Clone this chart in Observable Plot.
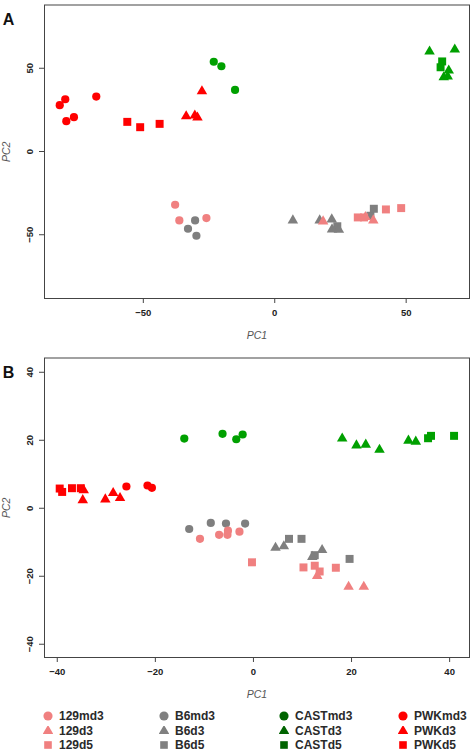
<!DOCTYPE html>
<html><head><meta charset="utf-8">
<script src="https://cdn.jsdelivr.net/npm/d3@7"></script>
<script src="https://cdn.jsdelivr.net/npm/@observablehq/plot@0.6"></script>
<style>
body{margin:0;background:#fff;font-family:"Liberation Sans",Arial,sans-serif;}
#root{width:472px;height:754px;overflow:hidden;}
svg{display:block}
#legend{display:grid;grid-template-columns:116px 120px 119px 110px;margin-left:43px;padding-top:4px;}
.item{display:flex;align-items:center;height:14.5px;font-weight:bold;font-size:12px;color:#2a2a2a;}
.item svg{margin-right:6px;flex:none}
</style></head><body><div id="root"></div>
<script>
// ---- data ----
const strains = ["129", "B6", "CAST", "PWK"];
const stages = ["md3", "d3", "d5"];
const plotColors = ["#f08080", "#7f7f7f", "#00a000", "#ff0000"];
const legendColors = ["#f08080", "#808080", "#006400", "#ff0000"];
const stageSymbols = ["circle", "triangle", "square"];

// panel A: [group, PC1, PC2]
const panelA = [
  ["129md3", -37.9, -32.0], ["129md3", -36.3, -41.4], ["129md3", -26.0, -40.0],
  ["B6md3", -33.0, -46.4], ["B6md3", -30.3, -41.4], ["B6md3", -29.8, -50.6],
  ["B6d3", 6.9, -41.4], ["B6d3", 17.1, -41.4], ["B6d3", 21.7, -40.8], ["B6d3", 21.8, -46.8], ["B6d3", 24.4, -47.0],
  ["B6d5", 23.8, -44.9], ["B6d5", 36.4, -38.6], ["B6d5", 37.7, -34.4],
  ["129d5", 31.6, -39.6], ["129d5", 34.0, -39.6], ["129d5", 42.3, -34.8], ["129d5", 48.1, -34.0],
  ["129d3", 18.4, -42.0], ["129d3", 34.5, -39.4], ["129d3", 37.5, -41.4],
  ["CASTmd3", -23.2, 53.9], ["CASTmd3", -20.3, 51.2], ["CASTmd3", -15.1, 37.0],
  ["CASTd3", 58.9, 60.1], ["CASTd3", 68.5, 61.3], ["CASTd3", 66.2, 48.6], ["CASTd3", 64.3, 44.6], ["CASTd3", 65.8, 45.0],
  ["CASTd5", 63.7, 54.1], ["CASTd5", 63.1, 50.6],
  ["PWKmd3", -81.8, 27.8], ["PWKmd3", -79.7, 31.4], ["PWKmd3", -79.3, 18.2], ["PWKmd3", -76.4, 20.6], ["PWKmd3", -67.9, 33.0],
  ["PWKd5", -56.1, 17.8], ["PWKd5", -51.2, 14.6], ["PWKd5", -43.8, 16.6],
  ["PWKd3", -33.7, 21.2], ["PWKd3", -30.4, 21.6], ["PWKd3", -29.4, 20.4], ["PWKd3", -27.7, 36.2]
];

// panel B: [group, PC1, PC2]
const panelB = [
  ["PWKd5", -39.5, 5.8], ["PWKd5", -39.0, 4.8], ["PWKd5", -37.0, 5.9], ["PWKd5", -35.2, 5.9],
  ["PWKd3", -34.6, 5.3], ["PWKd3", -34.8, 2.4], ["PWKd3", -30.2, 2.6], ["PWKd3", -28.6, 4.5], ["PWKd3", -27.2, 3.0],
  ["PWKmd3", -25.9, 6.4], ["PWKmd3", -21.6, 6.7], ["PWKmd3", -20.7, 6.0],
  ["CASTmd3", -14.1, 20.5], ["CASTmd3", -6.3, 21.9], ["CASTmd3", -3.5, 20.3], ["CASTmd3", -2.2, 21.7],
  ["B6md3", -13.1, -6.1], ["B6md3", -8.7, -4.3], ["B6md3", -5.6, -4.5], ["B6md3", -1.7, -4.5],
  ["129md3", -10.9, -9.0], ["129md3", -7.0, -7.8], ["129md3", -5.3, -7.8], ["129md3", -5.2, -6.6], ["129md3", -2.85, -6.9],
  ["B6d3", 4.5, -11.6], ["B6d3", 6.2, -11.2], ["B6d3", 14.0, -12.3], ["B6d3", 12.0, -14.3],
  ["B6d5", 7.25, -9.0], ["B6d5", 9.8, -9.0], ["B6d5", 12.5, -13.8], ["B6d5", 19.6, -14.9],
  ["129d5", -0.3, -15.9], ["129d5", 10.2, -17.4], ["129d5", 12.5, -16.9], ["129d5", 13.5, -18.6], ["129d5", 16.8, -17.5],
  ["129d3", 13.0, -19.9], ["129d3", 19.4, -23.1], ["129d3", 22.5, -23.1],
  ["CASTd3", 18.1, 20.5], ["CASTd3", 21.0, 18.5], ["CASTd3", 22.9, 18.7], ["CASTd3", 25.7, 17.2], ["CASTd3", 31.6, 19.9], ["CASTd3", 33.1, 19.6],
  ["CASTd5", 35.6, 20.6], ["CASTd5", 36.2, 21.3], ["CASTd5", 40.9, 21.3]
];

const ticksAX = [-50, 0, 50], ticksAY = [-50, 0, 50];
const ticksBX = [-40, -20, 0, 20, 40], ticksBY = [-40, -20, 0, 20, 40];
const domainAX = [-87.6, 74.1], domainAY = [-88.3, 88];
const domainBX = [-42.6, 44.05], domainBY = [-43.9, 44.2];

// ---- helpers ----
const strainOf = g => strains.find(s => g.startsWith(s) && stages.includes(g.slice(s.length)));
const stageOf = g => g.slice(strainOf(g).length);
const symbolR = {md3: 4.1, d3: 3.9, d5: 4.5};

function panel(rows, xd, yd, xt, yt, height, mt, mb, letter) {
  const data = rows.map(([g, x, y]) => ({g, x, y, strain: strainOf(g), stage: stageOf(g)}));
  const tickFont = {fontWeight: "bold", fontSize: 9.5, fill: "#222"};
  return Plot.plot({
    width: 472, height,
    marginLeft: 44, marginRight: 3, marginTop: mt, marginBottom: mb,
    style: {fontFamily: "'Liberation Sans', Arial, sans-serif", background: "#fff", overflow: "visible"},
    x: {domain: xd},
    y: {domain: yd},
    r: {type: "identity"},
    color: {domain: strains, range: plotColors},
    symbol: {domain: stages, range: stageSymbols},
    marks: [
      Plot.frame({stroke: "#444", strokeWidth: 1}),
      Plot.axisX({ticks: xt, tickSize: 5, tickPadding: 6, label: null, stroke: "#444", ...tickFont}),
      Plot.axisY({ticks: yt, tickSize: 5, tickPadding: 7, tickRotate: -90, label: null, stroke: "#444", ...tickFont}),
      Plot.dot(data, {x: "x", y: "y", fill: "strain", symbol: "stage", r: d => symbolR[d.stage], stroke: "none"}),
      Plot.text(["PC1"], {frameAnchor: "bottom", dy: 40, textAnchor: "middle", fontStyle: "italic", fontSize: 10.5, fill: "#555"}),
      Plot.text(["PC2"], {frameAnchor: "left", dx: -38, textAnchor: "middle", rotate: -90, fontStyle: "italic", fontSize: 10.5, fill: "#555"}),
      Plot.text([letter], {frameAnchor: "top-left", dx: -36, dy: 9, textAnchor: "middle", fontWeight: "bold", fontSize: 16, fill: "#111"})
    ]
  });
}

const root = document.getElementById("root");
root.appendChild(panel(panelA, domainAX, domainAY, ticksAX, ticksAY, 345, 4.5, 47, "A"));
root.appendChild(panel(panelB, domainBX, domainBY, ticksBX, ticksBY, 360, 12.5, 48, "B"));

// legend
const legend = document.createElement("div");
legend.id = "legend";
const symbolGen = {circle: d3.symbolCircle, triangle: d3.symbolTriangle, square: d3.symbolSquare};
const legendArea = {circle: 66, triangle: 48, square: 58};
stages.forEach((st, si) => {
  strains.forEach((s, ci) => {
    const item = document.createElement("div");
    item.className = "item";
    const sym = stageSymbols[si];
    const svg = d3.create("svg").attr("width", 10).attr("height", 10);
    svg.append("path").attr("transform", "translate(5,5)")
      .attr("d", d3.symbol(symbolGen[sym], legendArea[sym])())
      .attr("fill", legendColors[ci]);
    item.appendChild(svg.node());
    const span = document.createElement("span");
    span.textContent = s + st;
    item.appendChild(span);
    legend.appendChild(item);
  });
});
root.appendChild(legend);
</script></body></html>
